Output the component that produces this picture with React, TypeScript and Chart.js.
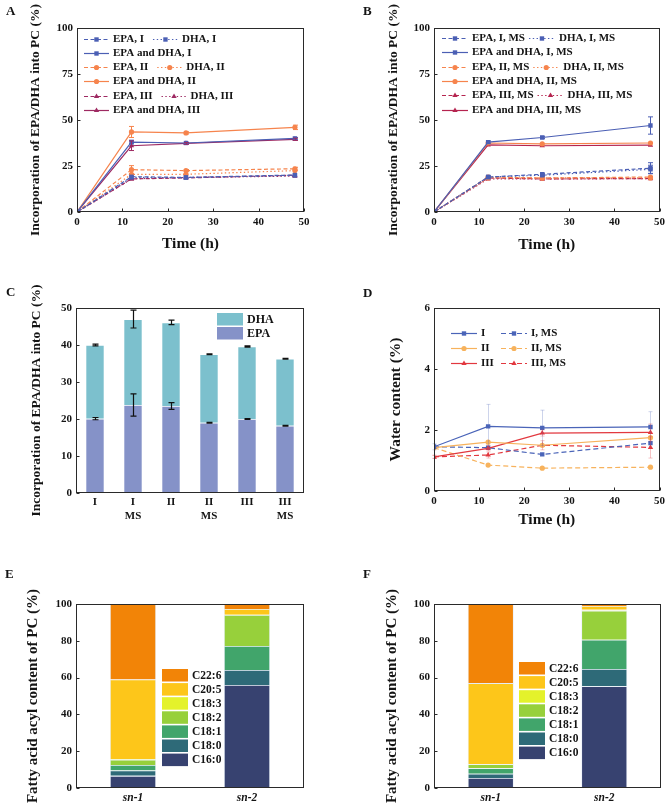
import React, { useEffect, useRef } from 'react';
import { Chart, registerables } from 'chart.js';
import { drawPoint } from 'chart.js/helpers';

Chart.register(...registerables);

const FONT = '"Liberation Serif", "Times New Roman", Times, serif';
const INK = '#141414';

// ---------- shared time axis (h) ----------
const hours = [0, 12, 24, 48];

// ---------- A: incorporation into PC (%) ----------
const epaI = [0, 19.2, 18.8, 20.1];
const dhaI = [0, 18.8, 18.7, 19.9];
const totalI = [0, 38.0, 37.5, 40.0];
const epaII = [0, 23.0, 22.5, 23.5];
const dhaII = [0, 20.5, 20.5, 22.5];
const totalII = [0, 43.5, 43.0, 46.0];
const epaIII = [0, 18.0, 18.5, 20.0];
const dhaIII = [0, 18.0, 18.8, 19.5];
const totalIII = [0, 36.0, 37.3, 39.5];
const totalIErr = [0, 1.0, 0.4, 0.5];
const totalIIErr = [0, 3.0, 0.6, 1.2];
const epaIIErr = [0, 2.2, 0.6, 0.8];
const totalIIIErr = [0, 2.6, 0.5, 0.6];

// ---------- B: incorporation into PC with MS (%) ----------
const epaIMS = [0, 19.0, 20.5, 23.8];
const dhaIMS = [0, 19.0, 20.0, 23.2];
const totalIMS = [0, 38.0, 40.5, 47.0];
const epaIIMS = [0, 19.0, 18.5, 19.0];
const dhaIIMS = [0, 18.5, 18.5, 18.5];
const totalIIMS = [0, 37.5, 37.0, 37.5];
const epaIIIMS = [0, 18.5, 18.0, 18.2];
const dhaIIIMS = [0, 18.0, 18.0, 18.1];
const totalIIIMS = [0, 36.5, 36.0, 36.3];
const totalIMSErr = [0, 0.6, 0.6, 4.7];
const epaIMSErr = [0, 0.6, 0.6, 3.0];
const dhaIMSErr = [0, 0.5, 0.5, 2.2];

// ---------- C: EPA / DHA stacked at 48 h (%) ----------
const groups = [['I'], ['I', 'MS'], ['II'], ['II', 'MS'], ['III'], ['III', 'MS']];
const barEpa = [20.1, 23.8, 23.5, 19.0, 20.0, 18.2];
const barDha = [19.9, 23.2, 22.6, 18.5, 19.6, 18.1];
const barEpaErr = [0.3, 3.0, 0.9, 0.1, 0.12, 0.1];
const barTotalErr = [0.25, 2.4, 0.6, 0.12, 0.18, 0.1];

// ---------- D: water content (%) ----------
const waterI = [1.45, 2.12, 2.07, 2.1];
const waterII = [1.42, 1.6, 1.5, 1.75];
const waterIII = [1.12, 1.4, 1.9, 1.92];
const waterIMS = [1.45, 1.42, 1.2, 1.57];
const waterIIMS = [1.42, 0.85, 0.75, 0.78];
const waterIIIMS = [1.12, 1.18, 1.5, 1.43];
const waterIErr = [0.1, 0.72, 0.58, 0.5];
const waterIIIErr = [0.05, 0.08, 0.1, 0.28];
const waterIIIMSErr = [0.05, 0.1, 0.15, 0.35];

// ---------- E / F: fatty acyl composition of PC (%) ----------
const positions = ['sn-1', 'sn-2'];
const fattyAcids = ['C16:0', 'C18:0', 'C18:1', 'C18:2', 'C18:3', 'C20:5', 'C22:6'];
const acidColors = ['#374270', '#2e6a78', '#41a56b', '#97d03b', '#e4f22b', '#fdc61a', '#f28407'];
const eSn1 = [6.6, 2.9, 3.0, 2.9, 0.3, 43.3, 41.0];
const eSn2 = [56.0, 8.1, 13.1, 16.8, 0.2, 3.1, 2.7];
const fSn1 = [5.5, 2.3, 2.9, 2.2, 0.2, 43.9, 43.0];
const fSn2 = [55.3, 9.4, 15.9, 15.8, 0.5, 2.0, 1.1];

// ---------- colours ----------
const BLUE = '#4b5fb4';
const ORANGE = '#f6844d';
const PLUM = '#9e2a62';
const CRIMSON = '#b5244f';
const D_BLUE = '#4a64b8';
const D_ORANGE = '#f7b25c';
const D_RED = '#e2383f';
const DHA_C = '#7cc0cd';
const EPA_C = '#8592c8';

const tickFont = { family: FONT, size: 11, weight: 'bold' as const };

type Box = { W: number; H: number; L: number; R: number; T: number; B: number };
type Style = 'solid' | 'dash' | 'dot';
type Mark = 'rect' | 'circle' | 'triangle';

const DASHES: Record<Style, number[]> = { solid: [], dash: [4, 2.5], dot: [1.4, 2.4] };

function series(label: string, values: number[], color: string, style: Style, mark: Mark, dash?: number[]) {
  return {
    label,
    data: hours.map((h, i) => ({ x: h, y: values[i] })),
    borderColor: color,
    backgroundColor: color,
    pointBackgroundColor: color,
    borderWidth: 1.2,
    borderDash: dash || DASHES[style],
    pointStyle: mark,
    pointRadius: mark === 'circle' ? 2.6 : 3.1,
    pointBorderWidth: 0,
    tension: 0,
    fill: false,
  };
}

type ErrSpec = { ds: number; center: number[]; err: number[]; color?: string; cap?: number; width?: number };
type Decor = {
  letter: [string, number, number];
  yTitle: [string, number, number];
  xTitle?: [string, number, number];
  errors?: ErrSpec[];
  tickX?: boolean;
  legend?: (chart: any) => void;
};

function decor(d: Decor) {
  return {
    id: 'decor',
    afterDatasetsDraw(chart: any) {
      const ctx = chart.ctx;
      const ys = chart.scales.y;
      (d.errors || []).forEach((eb) => {
        const meta = chart.getDatasetMeta(eb.ds);
        ctx.save();
        ctx.strokeStyle = eb.color || chart.data.datasets[eb.ds].borderColor;
        ctx.lineWidth = eb.width || 1;
        ctx.setLineDash([]);
        meta.data.forEach((el: any, i: number) => {
          const e = eb.err[i];
          if (!e) return;
          const x = Math.round(el.x) + 0.5;
          const y1 = ys.getPixelForValue(eb.center[i] + e);
          const y2 = ys.getPixelForValue(eb.center[i] - e);
          const c = eb.cap ?? 2.5;
          ctx.beginPath();
          ctx.moveTo(x, y1);
          ctx.lineTo(x, y2);
          ctx.moveTo(x - c, y1);
          ctx.lineTo(x + c, y1);
          ctx.moveTo(x - c, y2);
          ctx.lineTo(x + c, y2);
          ctx.stroke();
        });
        ctx.restore();
      });
    },
    afterDraw(chart: any) {
      const ctx = chart.ctx;
      const a = chart.chartArea;
      const l = Math.round(a.left) + 0.5;
      const r = Math.round(a.right) - 0.5;
      const t = Math.round(a.top) + 0.5;
      const b = Math.round(a.bottom) - 0.5;
      ctx.save();
      ctx.strokeStyle = '#2a2a2a';
      ctx.lineWidth = 1;
      ctx.setLineDash([]);
      ctx.strokeRect(l, t, r - l, b - t);
      // inward tick marks
      const ys = chart.scales.y;
      ctx.beginPath();
      ys.ticks.forEach((_: any, i: number) => {
        const py = Math.round(ys.getPixelForTick(i)) + 0.5;
        ctx.moveTo(l, py);
        ctx.lineTo(l + 3, py);
      });
      if (d.tickX) {
        const xs = chart.scales.x;
        xs.ticks.forEach((_: any, i: number) => {
          const px = Math.round(xs.getPixelForTick(i)) + 0.5;
          ctx.moveTo(px, b);
          ctx.lineTo(px, b - 3);
        });
      }
      ctx.stroke();

      ctx.fillStyle = INK;
      ctx.textAlign = 'center';
      ctx.textBaseline = 'middle';
      const [yt, yx, ysz] = d.yTitle;
      ctx.font = `bold ${ysz}px ${FONT}`;
      ctx.save();
      ctx.translate(yx, (a.top + a.bottom) / 2);
      ctx.rotate(-Math.PI / 2);
      ctx.fillText(yt, 0, 0);
      ctx.restore();
      if (d.xTitle) {
        const [xt, xy, xsz] = d.xTitle;
        ctx.font = `bold ${xsz}px ${FONT}`;
        ctx.fillText(xt, (a.left + a.right) / 2, xy);
      }
      const [lt, lx, ly] = d.letter;
      ctx.font = `bold 13px ${FONT}`;
      ctx.textAlign = 'left';
      ctx.fillText(lt, lx, ly);
      ctx.restore();
      if (d.legend) d.legend(chart);
    },
  };
}

type LineLegendOpts = { x0: number; y0: number; dy: number; len: number; gap: number; itemGap?: number; cols?: number[]; size: number };

function lineLegend(rows: number[][], o: LineLegendOpts) {
  return (chart: any) => {
    const ctx = chart.ctx;
    ctx.save();
    ctx.font = `bold ${o.size}px ${FONT}`;
    ctx.textBaseline = 'middle';
    ctx.textAlign = 'left';
    rows.forEach((row, ri) => {
      const y = Math.round(o.y0 + ri * o.dy) + 0.5;
      let x = o.x0;
      row.forEach((di, k) => {
        if (o.cols) x = o.cols[k];
        const ds = chart.data.datasets[di];
        ctx.strokeStyle = ds.borderColor;
        ctx.lineWidth = ds.borderWidth;
        ctx.setLineDash(ds.borderDash);
        ctx.beginPath();
        ctx.moveTo(x, y);
        ctx.lineTo(x + o.len, y);
        ctx.stroke();
        ctx.setLineDash([]);
        ctx.fillStyle = ds.backgroundColor;
        drawPoint(ctx, { pointStyle: ds.pointStyle, radius: ds.pointRadius, rotation: 0, borderWidth: 0 } as any, x + o.len / 2, y);
        ctx.fillStyle = INK;
        const tx = x + o.len + o.gap;
        ctx.fillText(ds.label, tx, y);
        x = tx + ctx.measureText(ds.label).width + (o.itemGap || 0);
      });
    });
    ctx.restore();
  };
}

type BoxLegendOpts = { x: number; y0: number; dy: number; w: number; h: number; gap: number; size: number };

function boxLegend(order: number[], o: BoxLegendOpts) {
  return (chart: any) => {
    const ctx = chart.ctx;
    ctx.save();
    ctx.font = `bold ${o.size}px ${FONT}`;
    ctx.textBaseline = 'middle';
    ctx.textAlign = 'left';
    order.forEach((di, k) => {
      const ds = chart.data.datasets[di];
      const y = o.y0 + k * o.dy;
      ctx.fillStyle = ds.backgroundColor;
      ctx.fillRect(o.x, y, o.w, o.h);
      ctx.fillStyle = INK;
      ctx.fillText(ds.label, o.x + o.w + o.gap, y + o.h / 2 + 0.5);
    });
    ctx.restore();
  };
}

function options(box: Box, x: any, y: any) {
  const axis = (extra: any) => ({
    ...extra,
    grid: { display: false, drawTicks: false },
    border: { display: false },
    ticks: { color: INK, font: tickFont, padding: 4, maxRotation: 0, autoSkip: false, ...(extra.ticks || {}) },
  });
  return {
    responsive: false,
    animation: false as const,
    devicePixelRatio: 1,
    events: [] as any[],
    layout: { padding: { left: 0, top: box.T, right: box.W - box.R, bottom: 0 } },
    plugins: { legend: { display: false }, tooltip: { enabled: false } },
    scales: {
      x: { ...axis(x), afterFit: (s: any) => { s.height = box.H - box.B; } },
      y: { ...axis(y), afterFit: (s: any) => { s.width = box.L; } },
    },
  };
}

const timeAxis = { type: 'linear', min: 0, max: 50, ticks: { stepSize: 10 } };

// ---------- panel configs ----------
function panelA() {
  const box: Box = { W: 335, H: 270, L: 77, R: 304, T: 28, B: 212 };
  const datasets = [
    series('EPA, I', epaI, BLUE, 'dash', 'rect'),
    series('DHA, I', dhaI, BLUE, 'dot', 'rect'),
    series('EPA and DHA, I', totalI, BLUE, 'solid', 'rect'),
    series('EPA, II', epaII, ORANGE, 'dash', 'circle'),
    series('DHA, II', dhaII, ORANGE, 'dot', 'circle'),
    series('EPA and DHA, II', totalII, ORANGE, 'solid', 'circle'),
    series('EPA, III', epaIII, PLUM, 'dash', 'triangle'),
    series('DHA, III', dhaIII, PLUM, 'dot', 'triangle'),
    series('EPA and DHA, III', totalIII, PLUM, 'solid', 'triangle'),
  ];
  return {
    type: 'line',
    data: { datasets },
    options: options(box, timeAxis, { type: 'linear', min: 0, max: 100, ticks: { stepSize: 25 } }),
    plugins: [
      decor({
        letter: ['A', 6, 12],
        yTitle: ['Incorporation of EPA/DHA into PC (%)', 36, 13.5],
        xTitle: ['Time (h)', 244, 15.5],
        tickX: true,
        errors: [
          { ds: 2, center: totalI, err: totalIErr },
          { ds: 3, center: epaII, err: epaIIErr },
          { ds: 5, center: totalII, err: totalIIErr },
          { ds: 8, center: totalIII, err: totalIIIErr },
        ],
        legend: lineLegend([[0, 1], [2], [3, 4], [5], [6, 7], [8]], { x0: 84, y0: 38.5, dy: 14.3, len: 25, gap: 4, itemGap: 9, size: 11 }),
      }),
    ],
  };
}

function panelB() {
  const box: Box = { W: 334, H: 270, L: 99, R: 328, T: 28, B: 212 };
  const datasets = [
    series('EPA, I, MS', epaIMS, BLUE, 'dash', 'rect'),
    series('DHA, I, MS', dhaIMS, BLUE, 'dot', 'rect'),
    series('EPA and DHA, I, MS', totalIMS, BLUE, 'solid', 'rect'),
    series('EPA, II, MS', epaIIMS, ORANGE, 'dash', 'circle'),
    series('DHA, II, MS', dhaIIMS, ORANGE, 'dot', 'circle'),
    series('EPA and DHA, II, MS', totalIIMS, ORANGE, 'solid', 'circle'),
    series('EPA, III, MS', epaIIIMS, CRIMSON, 'dash', 'triangle'),
    series('DHA, III, MS', dhaIIIMS, CRIMSON, 'dot', 'triangle'),
    series('EPA and DHA, III, MS', totalIIIMS, CRIMSON, 'solid', 'triangle'),
  ];
  return {
    type: 'line',
    data: { datasets },
    options: options(box, timeAxis, { type: 'linear', min: 0, max: 100, ticks: { stepSize: 25 } }),
    plugins: [
      decor({
        letter: ['B', 28, 12],
        yTitle: ['Incorporation of EPA/DHA into PC (%)', 59, 13.5],
        xTitle: ['Time (h)', 245, 15.5],
        tickX: true,
        errors: [
          { ds: 0, center: epaIMS, err: epaIMSErr },
          { ds: 1, center: dhaIMS, err: dhaIMSErr },
          { ds: 2, center: totalIMS, err: totalIMSErr },
        ],
        legend: lineLegend([[0, 1], [2], [3, 4], [5], [6, 7], [8]], { x0: 107, y0: 38, dy: 14.3, len: 26, gap: 4, itemGap: 4, size: 11 }),
      }),
    ],
  };
}

function panelC() {
  const box: Box = { W: 335, H: 270, L: 76, R: 304, T: 38, B: 223 };
  const barTotal = barEpa.map((v, i) => v + barDha[i]);
  const bar = { barPercentage: 0.5, categoryPercentage: 1, borderColor: 'rgba(255,255,255,0.85)', borderWidth: 0.8 };
  return {
    type: 'bar',
    data: {
      labels: groups,
      datasets: [
        { label: 'EPA', data: barEpa, backgroundColor: EPA_C, ...bar },
        { label: 'DHA', data: barDha, backgroundColor: DHA_C, ...bar },
      ],
    },
    options: options(
      box,
      { type: 'category', stacked: true, ticks: { padding: 2, font: { ...tickFont, lineHeight: 1.27 } } },
      { type: 'linear', stacked: true, min: 0, max: 50, ticks: { stepSize: 10 } },
    ),
    plugins: [
      decor({
        letter: ['C', 6, 23],
        yTitle: ['Incorporation of EPA/DHA into PC (%)', 37, 13.5],
        errors: [
          { ds: 0, center: barEpa, err: barEpaErr, color: '#111', cap: 3, width: 1.2 },
          { ds: 1, center: barTotal, err: barTotalErr, color: '#111', cap: 3, width: 1.2 },
        ],
        legend: boxLegend([1, 0], { x: 217, y0: 43, dy: 14, w: 26, h: 12.5, gap: 4, size: 12 }),
      }),
    ],
  };
}

function panelD() {
  const box: Box = { W: 334, H: 270, L: 99, R: 326, T: 38, B: 221 };
  const dash = [5, 3];
  const datasets = [
    series('I', waterI, D_BLUE, 'solid', 'rect'),
    series('II', waterII, D_ORANGE, 'solid', 'circle'),
    series('III', waterIII, D_RED, 'solid', 'triangle'),
    series('I, MS', waterIMS, D_BLUE, 'dash', 'rect', dash),
    series('II, MS', waterIIMS, D_ORANGE, 'dash', 'circle', dash),
    series('III, MS', waterIIIMS, D_RED, 'dash', 'triangle', dash),
  ];
  return {
    type: 'line',
    data: { datasets },
    options: options(box, timeAxis, { type: 'linear', min: 0, max: 6, ticks: { stepSize: 2 } }),
    plugins: [
      decor({
        letter: ['D', 28, 24],
        yTitle: ['Water content (%)', 61, 15.5],
        xTitle: ['Time (h)', 250, 15.5],
        tickX: true,
        errors: [
          { ds: 0, center: waterI, err: waterIErr, color: 'rgba(74,100,184,0.28)', cap: 2 },
          { ds: 2, center: waterIII, err: waterIIIErr, color: 'rgba(226,56,63,0.28)', cap: 2 },
          { ds: 5, center: waterIIIMS, err: waterIIIMSErr, color: 'rgba(226,56,63,0.3)', cap: 2 },
        ],
        legend: lineLegend([[0, 3], [1, 4], [2, 5]], { x0: 116, y0: 63, dy: 15, len: 26, gap: 4, cols: [116, 166], size: 11 }),
      }),
    ],
  };
}

function acidPanel(letter: string, sn1: number[], sn2: number[], box: Box, lx: number, titleX: number, legendX: number, legendY: number) {
  const datasets = fattyAcids.map((fa, k) => ({
    label: fa,
    data: [sn1[k], sn2[k]],
    backgroundColor: acidColors[k],
    borderColor: 'rgba(225,234,245,0.9)',
    borderWidth: 0.8,
    barPercentage: 0.405,
    categoryPercentage: 1,
  }));
  return {
    type: 'bar',
    data: { labels: positions, datasets },
    options: options(
      box,
      { type: 'category', stacked: true, ticks: { padding: 3, font: { ...tickFont, size: 11.5, style: 'italic' } } },
      { type: 'linear', stacked: true, min: 0, max: 100, ticks: { stepSize: 20 } },
    ),
    plugins: [
      decor({
        letter: [letter, lx, 35],
        yTitle: ['Fatty acid acyl content of PC (%)', titleX, 15],
        legend: boxLegend([6, 5, 4, 3, 2, 1, 0], { x: legendX, y0: legendY, dy: 14.1, w: 26, h: 12.5, gap: 4, size: 11.5 }),
      }),
    ],
  };
}

function panelE() {
  return acidPanel('E', eSn1, eSn2, { W: 335, H: 269, L: 76, R: 304, T: 64, B: 248 }, 5, 33, 162, 129);
}

function panelF() {
  return acidPanel('F', fSn1, fSn2, { W: 334, H: 269, L: 99, R: 326, T: 64, B: 248 }, 28, 57, 184, 122);
}

function Panel({ left, top, width, height, build }: { left: number; top: number; width: number; height: number; build: () => any }) {
  const ref = useRef<HTMLCanvasElement>(null);
  useEffect(() => {
    const chart = new Chart(ref.current as HTMLCanvasElement, build());
    return () => chart.destroy();
  }, [build]);
  return (
    <div style={{ position: 'absolute', left, top, width, height }}>
      <canvas ref={ref} width={width} height={height} style={{ width, height, display: 'block' }} />
    </div>
  );
}

export default function App() {
  return (
    <div style={{ position: 'absolute', left: 0, top: 0, width: 669, height: 809, background: '#fff', overflow: 'hidden' }}>
      <Panel left={0} top={0} width={335} height={270} build={panelA} />
      <Panel left={335} top={0} width={334} height={270} build={panelB} />
      <Panel left={0} top={270} width={335} height={270} build={panelC} />
      <Panel left={335} top={270} width={334} height={270} build={panelD} />
      <Panel left={0} top={540} width={335} height={269} build={panelE} />
      <Panel left={335} top={540} width={334} height={269} build={panelF} />
    </div>
  );
}
